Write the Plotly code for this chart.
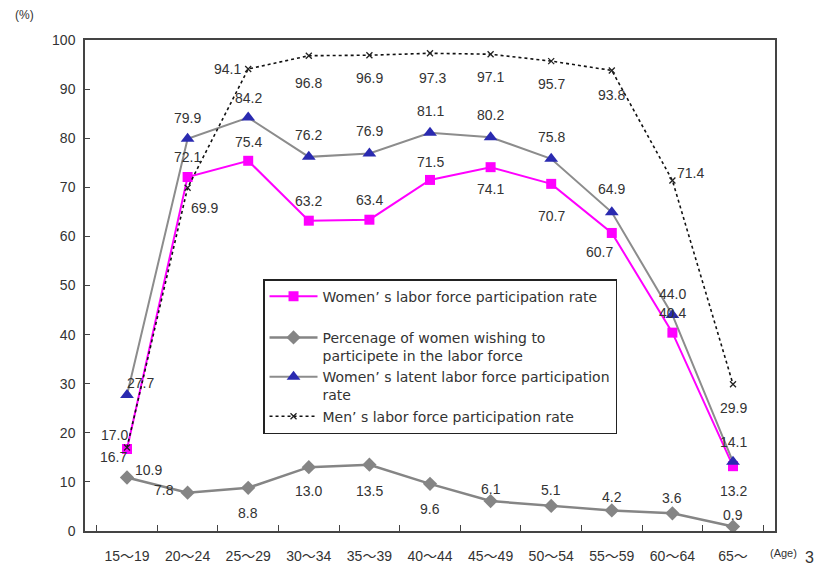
import plotly.graph_objects as go

# ---------------- data ----------------
ages = ["15～19", "20～24", "25～29", "30～34", "35～39", "40～44",
        "45～49", "50～54", "55～59", "60～64", "65～"]
women = [16.7, 72.1, 75.4, 63.2, 63.4, 71.5, 74.1, 70.7, 60.7, 40.4, 13.2]
wishing = [10.9, 7.8, 8.8, 13.0, 13.5, 9.6, 6.1, 5.1, 4.2, 3.6, 0.9]
latent = [27.7, 79.9, 84.2, 76.2, 76.9, 81.1, 80.2, 75.8, 64.9, 44.0, 14.1]
men = [17.0, 69.9, 94.1, 96.8, 96.9, 97.3, 97.1, 95.7, 93.8, 71.4, 29.9]

names = {
    "women": "Women’ s labor force participation rate",
    "wishing": "Percenage of women wishing to<br>participete in the labor force",
    "latent": "Women’ s latent labor force participation<br>rate",
    "men": "Men’ s labor force participation rate",
}

# label offsets in pixels (dx, dy; dy positive = downward) -- styling only
off_women = [(-14, 8), (0, -20), (0, -19), (0, -20), (0, -20), (0, -18),
             (0, 22), (0, 32), (-12, 19), (0, -20), (0, 25)]
off_latent = [(13, -12), (0, -21), (0, -20), (0, -22), (0, -22), (0, -22),
              (0, -22), (0, -22), (0, -23), (0, -21), (0, -20)]
off_wishing = [(21, -7), (-24, -3), (0, 25), (0, 24), (0, 26), (0, 25),
               (0, -12), (0, -16), (0, -13), (0, -15), (0, -12)]
off_men = [(-13, -13), (17, 20), (-21, 0), (0, 27), (0, 23), (2, 25),
           (0, 23), (0, 23), (0, 25), (18, -7), (0, 24)]

FONT = "Liberation Sans, Arial, Noto Sans CJK JP, sans-serif"
LFONT = "DejaVu Sans, Noto Sans CJK JP, sans-serif"
TXT = "#333333"

fig = go.Figure()

fig.add_trace(go.Scatter(
    x=ages, y=women, name=names["women"], mode="lines+markers",
    line=dict(color="#FF00FF", width=2),
    marker=dict(symbol="square", size=10, color="#FF00FF"),
    legendgroup="g1",
))
fig.add_trace(go.Scatter(
    x=ages, y=wishing, name=names["wishing"], mode="lines+markers",
    line=dict(color="#858585", width=2.5),
    marker=dict(symbol="diamond", size=11, color="#858585"),
    legendgroup="g2",
))
fig.add_trace(go.Scatter(
    x=ages, y=latent, name=names["latent"], mode="lines+markers",
    line=dict(color="#8C8C8C", width=2),
    marker=dict(symbol="triangle-up", size=12, color="#2A2AB0"),
    legendgroup="g2",
))
fig.add_trace(go.Scatter(
    x=ages, y=men, name=names["men"], mode="lines+markers",
    line=dict(color="#111111", width=1.6, dash="dot"),
    marker=dict(symbol="x-thin", size=6, line=dict(color="#222222", width=1.3)),
    legendgroup="g2",
))

annotations = []
for vals, offs in ((women, off_women), (latent, off_latent),
                   (wishing, off_wishing), (men, off_men)):
    for a, v, (dx, dy) in zip(ages, vals, offs):
        annotations.append(dict(
            x=a, y=v, xref="x", yref="y", text=f"{v:.1f}", showarrow=False,
            xshift=dx, yshift=-dy, font=dict(size=14, color=TXT, family=FONT),
        ))

annotations += [
    dict(text="(%)", xref="paper", yref="paper", x=-0.088, y=1.05,
         xanchor="center", yanchor="middle", showarrow=False,
         font=dict(size=12, color=TXT, family=FONT)),
    dict(text="(Age)", xref="paper", yref="paper", x=0.99, y=-0.045,
         xanchor="left", yanchor="middle", showarrow=False,
         font=dict(size=11, color=TXT, family=FONT)),
    dict(text="3", xref="paper", yref="paper", x=1.04, y=-0.053,
         xanchor="left", yanchor="middle", showarrow=False,
         font=dict(size=16, color=TXT, family=FONT)),
]

# the page body adds an 8px offset; size the figure to the visible window
fig.update_layout(
    width=815, height=562,
    margin=dict(l=77, r=48, t=32, b=39, autoexpand=False),
    paper_bgcolor="white", plot_bgcolor="white",
    font=dict(family=FONT, size=14, color=TXT),
    showlegend=True,
    legend=dict(
        x=0.258, y=0.513, xanchor="left", yanchor="top",
        bgcolor="white", bordercolor="#222222", borderwidth=1.5,
        font=dict(size=14, color=TXT, family=LFONT),
        valign="top", traceorder="grouped", tracegroupgap=20,
        itemwidth=48,
    ),
    annotations=annotations,
)
fig.update_xaxes(
    type="category", showline=True, linecolor="#444444", linewidth=1.5,
    mirror=True, ticks="inside", tickson="boundaries", ticklen=6,
    tickcolor="#444444", showgrid=False, zeroline=False, automargin=False,
    tickfont=dict(size=14, color=TXT, family=FONT), ticklabelstandoff=11,
)
fig.update_yaxes(
    range=[0, 100], dtick=10, showline=True, linecolor="#444444",
    linewidth=1.5, mirror=True, ticks="inside", ticklen=5,
    tickcolor="#444444", showgrid=False, zeroline=False, automargin=False,
    tickfont=dict(size=14, color=TXT, family=FONT), ticklabelstandoff=5,
)

fig.write_html("out.html")
